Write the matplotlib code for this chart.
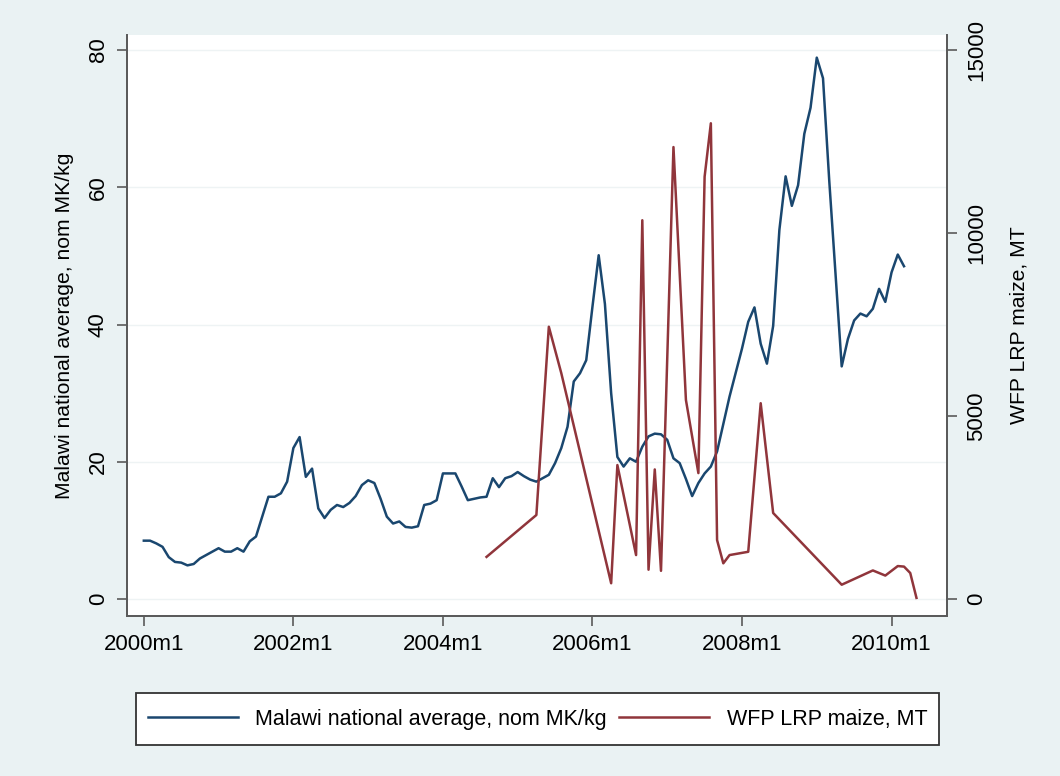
import matplotlib
matplotlib.use("Agg")
import matplotlib.pyplot as plt
from matplotlib.patches import Rectangle
import numpy as np

plt.rcParams['font.family'] = ['Liberation Sans', 'DejaVu Sans']

# Malawi national average maize price (nominal MK/kg), monthly from 2000m1
price = [8.5, 8.5, 8.1, 7.6, 6.1, 5.4, 5.3, 4.9, 5.1, 5.9, 6.4, 6.9,
         7.4, 6.9, 6.9, 7.4, 6.9, 8.4, 9.1, 12.0, 14.9, 14.9, 15.4, 17.1,
         22.0, 23.6, 17.8, 19.0, 13.2, 11.8, 13.0, 13.7, 13.4, 14.0, 15.0, 16.6,
         17.3, 16.9, 14.6, 12.0, 11.0, 11.3, 10.5, 10.4, 10.6, 13.7, 13.9, 14.4,
         18.3, 18.3, 18.3, 16.4, 14.4, 14.6, 14.8, 14.9, 17.6, 16.3, 17.6, 17.9,
         18.5, 17.9, 17.4, 17.1, 17.6, 18.1, 19.8, 22.0, 25.1, 31.7, 32.9, 34.8,
         42.6, 50.1, 43.0, 30.0, 20.7, 19.3, 20.5, 20.0, 22.2, 23.7, 24.1, 24.0,
         23.2, 20.5, 19.8, 17.5, 15.0, 16.9, 18.3, 19.3, 21.5, 25.5, 29.5, 33.0,
         36.5, 40.4, 42.5, 37.2, 34.3, 39.8, 53.8, 61.6, 57.3, 60.3, 67.8, 71.6,
         78.9, 75.9, 61.0, 47.5, 33.9, 37.9, 40.6, 41.6, 41.2, 42.3, 45.2, 43.3,
         47.6, 50.2, 48.5]
price_month = list(range(len(price)))

# WFP local and regional procurement of maize (MT); months counted from 2000m1
lrp_month = [55, 63, 65, 67, 75, 76, 79, 80, 81, 82, 83, 85, 87, 89, 90, 91,
             92, 93, 94, 97, 99, 101, 112, 117, 119, 121, 122, 123, 124]
lrp_mt = [1150, 2295, 7440, 6170, 430, 3660, 1200, 10350, 800, 3540, 770,
          12350, 5440, 3440, 11540, 13000, 1610, 975, 1200, 1290, 5350, 2350,
          390, 780, 640, 900, 885, 710, 30]

x_labels = ["2000m1", "2002m1", "2004m1", "2006m1", "2008m1", "2010m1"]
left_ticks = [0, 20, 40, 60, 80]
right_ticks = [0, 5000, 10000, 15000]

navy = "#1a476f"
maroon = "#90353b"
bg = "#eaf2f3"
axcol = "#5a5a5a"

W, H = 1060, 776
fig = plt.figure(figsize=(W / 100, H / 100), dpi=100, facecolor=bg)
ax = fig.add_axes([127/W, 1-616/H, (947-127)/W, (616-35)/H])
ax.set_facecolor("white")
ax2 = ax.twinx()

l1, = ax.plot(price_month, price, color=navy, lw=1.8,
              label="Malawi national average, nom MK/kg", zorder=3)
l2, = ax2.plot(lrp_month, lrp_mt, color=maroon, lw=1.8,
               label="WFP LRP maize, MT", zorder=3)

xt = [(int(s[:4]) - 2000) * 12 for s in x_labels]
ax.set_xlim(-2.7, 128.9)
ax.set_ylim(-2.48, 82.2)
ax2.set_ylim(-2.48 * 187.5, 82.2 * 187.5)

ax.set_xticks(xt)
ax.set_xticklabels(x_labels, fontsize=16)
ax.set_yticks(left_ticks)
ax.set_yticklabels([str(v) for v in left_ticks], fontsize=16, rotation=90, va='center')
ax2.set_yticks(right_ticks)
ax2.set_yticklabels([str(v) for v in right_ticks], fontsize=16, rotation=90, va='center')

for v in left_ticks:
    ax.axhline(v, color="#eef3f4", lw=1.0, zorder=0)

for a in (ax, ax2):
    a.spines['top'].set_visible(False)
    for s in ('left', 'right', 'bottom'):
        a.spines[s].set_color(axcol)
        a.spines[s].set_linewidth(1.3)
    a.tick_params(colors=axcol, labelcolor="black", length=7, width=1.2)
ax.tick_params(axis='x', pad=6)
ax.tick_params(axis='y', pad=6)
ax2.tick_params(axis='y', pad=7)

ax.set_ylabel("Malawi national average, nom MK/kg", fontsize=15.2, labelpad=10)
ax2.set_ylabel("WFP LRP maize, MT", fontsize=15.2, labelpad=16)

# legend box below the plot
box = (136/W, 1-745/H, (939-136)/W, 52/H)
fig.add_artist(Rectangle(box[:2], box[2], box[3], transform=fig.transFigure,
                         facecolor="white", edgecolor="#333333", lw=1.3, zorder=1))
leg = fig.legend(handles=[l1, l2], loc='center', bbox_to_anchor=box,
                 mode='expand', ncol=2, fontsize=15.5, frameon=False,
                 handlelength=4.2, handletextpad=0.8, borderaxespad=0, borderpad=0.55)
leg.set_zorder(2)

fig.savefig("out.png", dpi=100, facecolor=bg)
